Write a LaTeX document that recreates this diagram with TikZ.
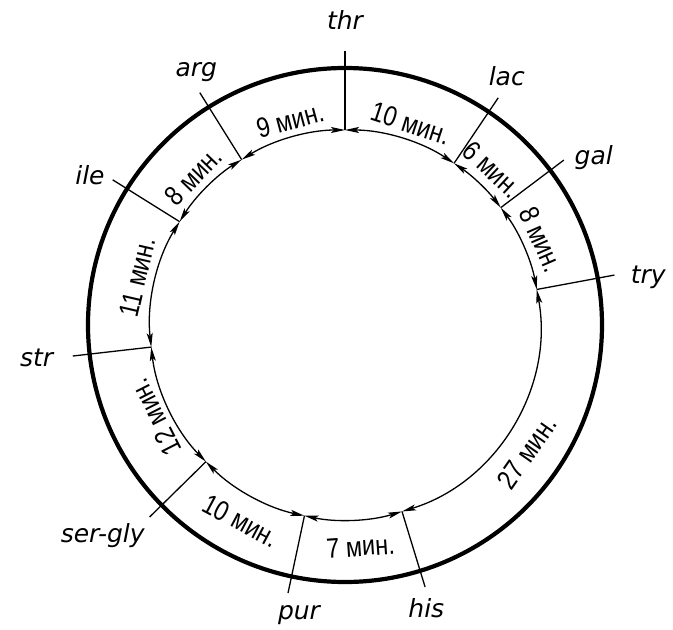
\documentclass[tikz,border=0pt]{standalone}
\usepackage{fontspec}
\setmainfont{DejaVu Sans}
\newfontfamily\spanfont{Liberation Sans}
\usetikzlibrary{arrows.meta}

\begin{document}
\begin{tikzpicture}[x=1pt, y=1pt,
  ring/.style={line width=4.2pt},
  tick/.style={line width=1.3pt},
  dimline/.style={{Stealth[length=14pt,width=6pt,inset=3pt]}-{Stealth[length=14pt,width=6pt,inset=3pt]},
    line width=1.3pt},
  amino/.style={font=\fontsize{25}{25}\selectfont\itshape, inner sep=0pt},
  span/.style={font=\spanfont\fontsize{28}{28}\selectfont, inner sep=0pt,
    xscale=0.84, transform shape},
]
\useasboundingbox (-345,-305) rectangle (328,325);

\draw[ring] (0,0) circle[radius=257];

\coordinate (thr-in) at (90:195);     \coordinate (thr-out) at (90:274);
\coordinate (lac-in) at (56:195);     \coordinate (lac-out) at (56:274);
\coordinate (gal-in) at (37:195);     \coordinate (gal-out) at (37:274);
\coordinate (try-in) at (10.5:195);   \coordinate (try-out) at (10.5:274);
\coordinate (his-in) at (287:195);    \coordinate (his-out) at (287:274);
\coordinate (pur-in) at (258:195);    \coordinate (pur-out) at (258:274);
\coordinate (sg-in) at (224.5:195);   \coordinate (sg-out) at (224.5:274);
\coordinate (str-in) at (186.5:195);  \coordinate (str-out) at (186.5:274);
\coordinate (ile-in) at (148:195);    \coordinate (ile-out) at (148:274);
\coordinate (arg-in) at (122:195);    \coordinate (arg-out) at (122:274);

\draw[tick] (thr-in) -- (thr-out);
\draw[tick] (lac-in) -- (lac-out);
\draw[tick] (gal-in) -- (gal-out);
\draw[tick] (try-in) -- (try-out);
\draw[tick] (his-in) -- (his-out);
\draw[tick] (pur-in) -- (pur-out);
\draw[tick] (sg-in) -- (sg-out);
\draw[tick] (str-in) -- (str-out);
\draw[tick] (ile-in) -- (ile-out);
\draw[tick] (arg-in) -- (arg-out);

\node[amino] (thr) at (90:305) {thr};
\node[amino] (lac) at (57:297) {lac};
\node[amino] (gal) at (34:300) {gal};
\node[amino] (try) at (9:307) {try};
\node[amino] (his) at (-74:295) {his};
\node[amino] (pur) at (261:294) {pur};
\node[amino] (sergly) at (221:321) {ser-gly};
\node[amino] (str) at (186:310) {str};
\node[amino] (ile) at (149.5:296) {ile};
\node[amino] (arg) at (120.5:293) {arg};

\draw[dimline] (try-in) arc[start angle=10.5, end angle=37, radius=195];
\draw[dimline] (gal-in) arc[start angle=37, end angle=56, radius=195];
\draw[dimline] (lac-in) arc[start angle=56, end angle=90, radius=195];
\draw[dimline] (thr-in) arc[start angle=90, end angle=122, radius=195];
\draw[dimline] (arg-in) arc[start angle=122, end angle=148, radius=195];
\draw[dimline] (ile-in) arc[start angle=148, end angle=186.5, radius=195];
\draw[dimline] (str-in) arc[start angle=186.5, end angle=224.5, radius=195];
\draw[dimline] (sg-in) arc[start angle=224.5, end angle=258, radius=195];
\draw[dimline] (pur-in) arc[start angle=258, end angle=287, radius=195];
\draw[dimline] (his-in) arc[start angle=287, end angle=370.5, radius=195];

\node[rotate=15, span] (t-arg-thr) at (105:212) {9 мин.};
\node[rotate=-18, span] (t-thr-lac) at (72:212) {10 мин.};
\node[rotate=-43, span] (t-lac-gal) at (46.5:214) {6 мин.};
\node[rotate=-66.5, span] (t-gal-try) at (23.5:214) {8 мин.};
\node[rotate=55, span] (t-try-his) at (-35:222) {27 мин.};
\node[rotate=4, span] (t-his-pur) at (-86:222) {7 мин.};
\node[rotate=-28, span] (t-pur-sg) at (242:222) {10 мин.};
\node[rotate=117, span] (t-sg-str) at (206:211) {12 мин.};
\node[rotate=77, span] (t-str-ile) at (167:213) {11 мин.};
\node[rotate=46, span] (t-ile-arg) at (135.5:212) {8 мин.};

\end{tikzpicture}
\end{document}
